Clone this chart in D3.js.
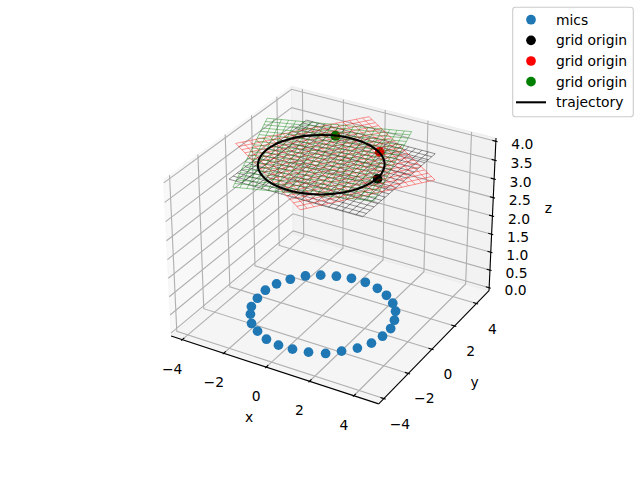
<!DOCTYPE html><html><head><meta charset="utf-8"><style>html,body{margin:0;background:#fff}svg{display:block}text{font-family:"DejaVu Sans";font-size:13.89px;fill:#000}</style><script src="https://cdn.jsdelivr.net/npm/d3@7"></script></head><body><svg id="c" width="640" height="480"></svg><script>
// ---- data ----
const xLim=[-4.35,4.91], yLim=[-4.22,4.99], zLim=[0,4];
const xTicks=[-4,-2,0,2,4], yTicks=[-4,-2,0,2,4], zTicks=[0,.5,1,1.5,2,2.5,3,3.5,4];
const micX=[-2.79,-2.92,-2.97,-2.83,-2.52,-2.10,-1.57,-0.95,-0.31,0.36,1.04,1.64,2.17,2.57,2.86,3.03,3.02,2.88,2.57,2.13,1.66,1.02,0.35,-0.29,-0.94,-1.57,-2.09,-2.51];
const micY=[-1.07,-0.39,0.32,0.99,1.60,2.15,2.53,2.79,2.96,2.97,2.80,2.50,2.08,1.59,0.96,0.33,-0.34,-1.01,-1.61,-2.12,-2.58,-2.84,-2.97,-3.00,-2.87,-2.54,-2.17,-1.59];
const micZ=0, planeZ=4;
const trajX=[2.47,2.44,2.32,2.14,1.89,1.58,1.22,0.83,0.40,-0.03,-0.47,-0.89,-1.28,-1.64,-1.95,-2.20,-2.38,-2.50,-2.54,-2.50,-2.38,-2.20,-1.95,-1.64,-1.28,-0.89,-0.47,-0.03,0.40,0.83,1.22,1.58,1.89,2.14,2.32,2.44];
const trajY=[-0.01,0.43,0.85,1.25,1.60,1.91,2.16,2.35,2.46,2.50,2.46,2.35,2.16,1.91,1.60,1.25,0.85,0.43,-0.01,-0.44,-0.86,-1.26,-1.62,-1.92,-2.18,-2.36,-2.47,-2.51,-2.47,-2.36,-2.18,-1.92,-1.62,-1.26,-0.86,-0.44];
const originNames=["grid origin","grid origin","grid origin"], originColors=["#000000","#ff0000","#008000"];
const originX=[2.51,1.48,-0.75], originY=[0.01,2.03,2.36];
const blackCorners=[[-2.5,-2.9],[-2.5,3.0],[3.48,3.0],[3.48,-2.9]];
const redCorners=[[-3.91,-0.21],[-0.42,4.56],[4.49,1.05],[1.16,-3.61]];
const greenCorners=[[-4.00,2.34],[1.75,4.24],[3.25,-1.60],[-2.02,-3.37]];
const gridFractions=[0,.05,.1,.15,.2,.25,.3,.35,.4,.45,.5,.55,.6,.65,.7,.75,.8,.85,.9,.95,1];
// ---- projection (elev 30, azim -60) ----
const svg=d3.select("#c");
const sx=d3.scaleLinear().domain(xLim).range([0,1.1429]),sy=d3.scaleLinear().domain(yLim).range([0,1.1429]),sz=d3.scaleLinear().domain(zLim).range([0,.8571]);
const el=30*Math.PI/180,az=-60*Math.PI/180,dist=10,R=[.57145,.57145,.42855];
const wv=[Math.cos(el)*Math.cos(az),Math.cos(el)*Math.sin(az),Math.sin(el)];
const E=R.map((r,i)=>r+dist*wv[i]);
const nu=Math.hypot(wv[0],wv[1]);const u=[-wv[1]/nu,wv[0]/nu,0];
const v=[wv[1]*u[2]-wv[2]*u[1],wv[2]*u[0]-wv[0]*u[2],wv[0]*u[1]-wv[1]*u[0]];
const dot=(a,b)=>a[0]*b[0]+a[1]*b[1]+a[2]*b[2];
const px=d3.scaleLinear().domain([-.095,.09]).range([143.2,512.8]),py=d3.scaleLinear().domain([-.095,.09]).range([427.2,57.6]);
function P(x,y,z){const d=[sx(x)-E[0],sy(y)-E[1],sz(z)-E[2]];const t=-dot(wv,d);return [px(dot(u,d)/t),py(dot(v,d)/t)];}
const pad=l=>[l[0]-(l[1]-l[0])/48,l[1]+(l[1]-l[0])/48];
const [x0,x1]=pad(xLim),[y0,y1]=pad(yLim),[z0,z1]=pad(zLim);
const dx=(xLim[1]-xLim[0])/12,dy=(yLim[1]-yLim[0])/12;
const line=d3.line();
const poly=(pts,fill)=>svg.append("path").attr("d",line(pts.map(p=>P(...p)))+"Z").attr("fill",fill).attr("stroke",fill);
poly([[x0,y0,z0],[x0,y1,z0],[x0,y1,z1],[x0,y0,z1]],"rgba(242,242,242,.5)");
poly([[x0,y1,z0],[x1,y1,z0],[x1,y1,z1],[x0,y1,z1]],"rgba(230,230,230,.5)");
poly([[x0,y0,z0],[x1,y0,z0],[x1,y1,z0],[x0,y1,z0]],"rgba(236,236,236,.5)");
const L=(pts,c,w,o)=>svg.append("path").attr("d",line(pts.map(p=>P(...p)))).attr("fill","none").attr("stroke",c).attr("stroke-width",w).attr("stroke-opacity",o==null?1:o);
xTicks.forEach(t=>L([[t,y0,z0],[t,y1,z0],[t,y1,z1]],"#b0b0b0",1.11));
yTicks.forEach(t=>L([[x1,t,z0],[x0,t,z0],[x0,t,z1]],"#b0b0b0",1.11));
zTicks.forEach(t=>L([[x0,y0,t],[x0,y1,t],[x1,y1,t]],"#b0b0b0",1.11));
L([[x0,y0,z0],[x1,y0,z0]],"#000",1.11);L([[x1,y0,z0],[x1,y1,z0]],"#000",1.11);L([[x1,y1,z0],[x1,y1,z1]],"#000",1.11);
const label=(s,p,ox,oy)=>svg.append("text").attr("x",p[0]+ox).attr("y",p[1]+oy).attr("text-anchor","middle").attr("dominant-baseline","central").text(s);
const fmt=d=>String(d).replace("-","\u2212");
xTicks.forEach(t=>{L([[t,y0-.1*dy,z0],[t,y0+.2*dy,z0]],"#000",1.11);label(fmt(t),P(t,y0,z0),-10,29);});
yTicks.forEach(t=>{L([[x1+.1*dx,t,z0],[x1-.2*dx,t,z0]],"#000",1.11);label(fmt(t),P(x1,t,z0),16,25);});
zTicks.forEach(t=>{L([[x1+.1*dx,y1,t],[x1-.2*dx,y1,t]],"#000",1.11);label(t.toFixed(1),P(x1,y1,t),26.5,2.5);});
label("x",P(.35,y0,z0),-24.5,47);label("y",P(x1,.4,z0),38,37);label("z",P(x1,y1,2),56,-8);
// ---- marks ----
micX.forEach((x,i)=>{const p=P(x,micY[i],micZ);svg.append("circle").attr("cx",p[0]).attr("cy",p[1]).attr("r",4.86).attr("fill","#1f77b4");});
originX.forEach((x,i)=>{const p=P(x,originY[i],planeZ);svg.append("circle").attr("cx",p[0]).attr("cy",p[1]).attr("r",4.86).attr("fill",originColors[i]);});
function mesh(c,color){const mix=(a,b,f)=>[a[0]+(b[0]-a[0])*f,a[1]+(b[1]-a[1])*f,planeZ];
 gridFractions.forEach(f=>{L([mix(c[0],c[3],f),mix(c[1],c[2],f)],color,.6,.7);L([mix(c[0],c[1],f),mix(c[3],c[2],f)],color,.6,.7);});}
mesh(blackCorners,"#000");mesh(redCorners,"#f00");mesh(greenCorners,"#008000");
svg.append("path").attr("d",d3.line().curve(d3.curveCatmullRomClosed)(trajX.map((x,i)=>P(x,trajY[i],planeZ)))).attr("fill","none").attr("stroke","#000").attr("stroke-width",2.08);
// ---- legend ----
const lg=svg.append("g");
lg.append("rect").attr("x",512.7).attr("y",7.3).attr("width",120.6).attr("height",109.4).attr("rx",2.8).attr("fill","rgba(255,255,255,.8)").attr("stroke","#ccc").attr("stroke-width",1.11);
const legendNames=["mics",...originNames,"trajectory"],legendColors=["#1f77b4",...originColors,"#000"];
const rowY=d3.scaleLinear().domain([0,4]).range([19.7,102.3]);
legendNames.forEach((n,i)=>{const y=rowY(i);
 if(i<4)lg.append("circle").attr("cx",531).attr("cy",y).attr("r",4.86).attr("fill",legendColors[i]);
 else lg.append("line").attr("x1",516).attr("x2",546).attr("y1",y).attr("y2",y).attr("stroke","#000").attr("stroke-width",2.08);
 lg.append("text").attr("x",556).attr("y",y).attr("dominant-baseline","central").text(n);});
</script></body></html>
